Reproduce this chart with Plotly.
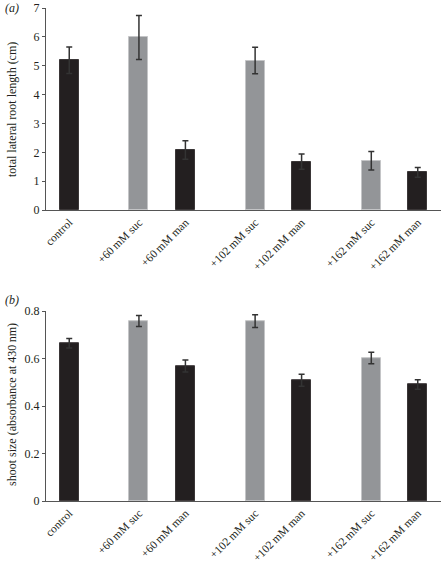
import plotly.graph_objects as go
from plotly.subplots import make_subplots

categories = ["control", "+60\u2009mM suc", "+60\u2009mM man", "+102\u2009mM suc",
              "+102\u2009mM man", "+162\u2009mM suc", "+162\u2009mM man"]
positions = [0, 1.5, 2.5, 4, 5, 6.5, 7.5]
is_sucrose = [False, True, False, True, False, True, False]

root_length = [5.19, 5.98, 2.08, 5.18, 1.68, 1.71, 1.31]
root_length_err = [0.46, 0.76, 0.32, 0.46, 0.26, 0.32, 0.17]

shoot_size = [0.665, 0.759, 0.569, 0.758, 0.509, 0.603, 0.491]
shoot_size_err = [0.02, 0.023, 0.025, 0.027, 0.025, 0.024, 0.02]

root_ticks = [0, 1, 2, 3, 4, 5, 6, 7]
shoot_ticks = [0, 0.2, 0.4, 0.6, 0.8]
shoot_ticktext = ["0", "0.2", "0.4", "0.6", "0.8"]

DARK = "#231f20"
GRAY = "#939598"
colors = [GRAY if s else DARK for s in is_sucrose]
edge = ["#c4c5c7" if s else "#3a3637" for s in is_sucrose]

FONT = "Liberation Serif"
TXT = "#231f20"

fig = make_subplots(rows=2, cols=1, vertical_spacing=0.0)

for row, vals, errs in [(1, root_length, root_length_err), (2, shoot_size, shoot_size_err)]:
    fig.add_trace(go.Bar(
        x=positions, y=vals, width=0.41,
        marker=dict(color=colors, line=dict(color=edge, width=1)),
        error_y=dict(type="data", array=errs, color="#333333", thickness=1.5, width=3),
        showlegend=False, hoverinfo="skip",
    ), row=row, col=1)

axis_common = dict(showgrid=False, zeroline=False, showline=True, linecolor="#555555",
                   linewidth=1.2)

fig.update_xaxes(range=[-0.5, 8.0], tickvals=positions, ticktext=categories,
                 tickangle=-45, ticks="", tickfont=dict(family=FONT, size=11.5, color=TXT),
                 **axis_common)
fig.update_yaxes(ticks="outside", ticklen=3, tickcolor="#555555",
                 tickfont=dict(family=FONT, size=12, color=TXT), **axis_common)

fig.update_yaxes(range=[0, 7], tickvals=root_ticks, row=1, col=1)
fig.update_yaxes(range=[0, 0.8], tickvals=shoot_ticks, ticktext=shoot_ticktext, row=2, col=1)

fig.update_layout(
    width=442, height=566,
    margin=dict(l=46, r=1, t=8, b=65),
    plot_bgcolor="white", paper_bgcolor="white",
    font=dict(family=FONT, size=12, color=TXT),
    bargap=0,
    xaxis=dict(domain=[0, 1]),
    yaxis=dict(domain=[0.590, 1.0]),
    yaxis2=dict(domain=[0.0, 0.385]),
)

fig.add_annotation(text="<i>(a)</i>", xref="paper", yref="paper",
                   x=-43 / 395, y=1.0, xanchor="left", yanchor="middle",
                   showarrow=False, font=dict(family=FONT, size=12, color=TXT))
fig.add_annotation(text="<i>(b)</i>", xref="paper", yref="paper",
                   x=-43 / 395, y=(501 - 300) / 493, xanchor="left", yanchor="middle",
                   showarrow=False, font=dict(family=FONT, size=12, color=TXT))
fig.add_annotation(text="total lateral root length (cm)", xref="paper", yref="paper",
                   x=-34 / 395, y=(501 - 110) / 493, xanchor="center", yanchor="middle",
                   textangle=-90, showarrow=False,
                   font=dict(family=FONT, size=12, color=TXT))
fig.add_annotation(text="shoot size (absorbance at 430\u2009nm)", xref="paper", yref="paper",
                   x=-34 / 395, y=(501 - 405) / 493, xanchor="center", yanchor="middle",
                   textangle=-90, showarrow=False,
                   font=dict(family=FONT, size=12, color=TXT))

fig.write_html("out.html", config={"displayModeBar": False},
               post_script="document.body.style.margin='0';document.body.style.overflow='hidden';")
